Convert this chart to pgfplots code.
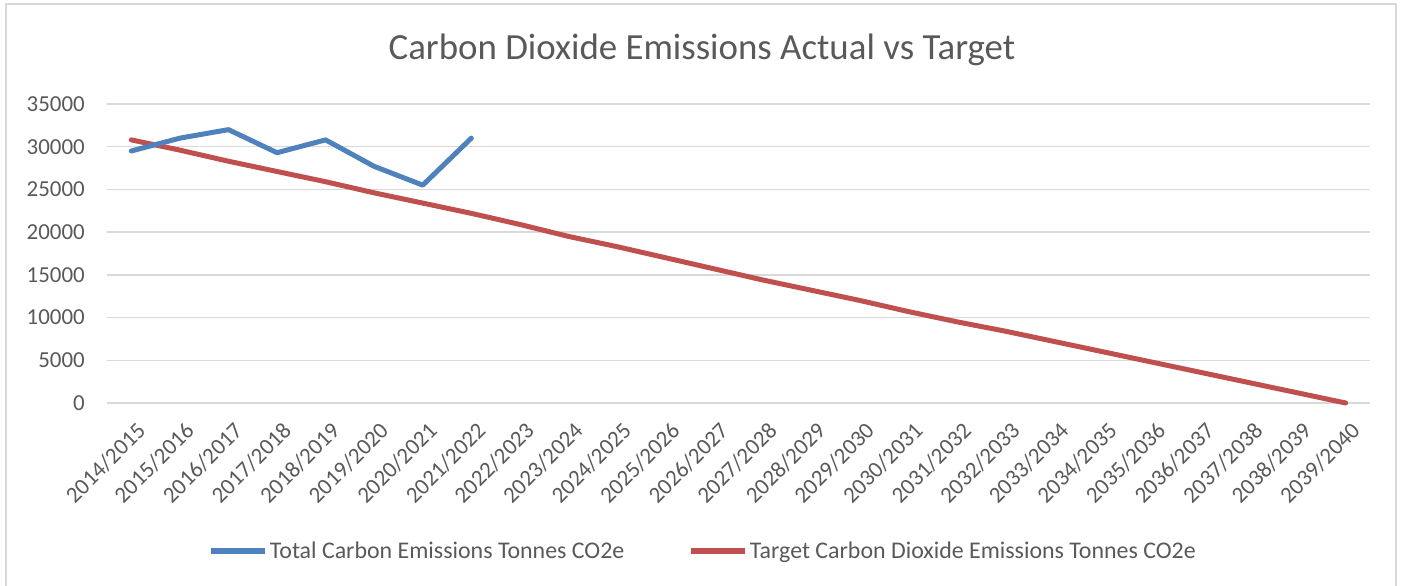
\documentclass[border=0pt]{standalone}
\usepackage{fontspec}
\setmainfont{Carlito}
\usepackage{pgfplots}
\pgfplotsset{compat=1.18}
\definecolor{txt}{HTML}{595959}
\definecolor{gridc}{HTML}{D9D9D9}
\definecolor{blu}{HTML}{4F81BD}
\definecolor{rd}{HTML}{C0504D}
\begin{document}
\begin{tikzpicture}
\begin{axis}[
  at={(107bp,183bp)}, anchor=south west,
  scale only axis, width=1263bp, height=299bp,
  xmin=-0.5, xmax=25.5, ymin=0, ymax=35000,
  ytick={0,5000,...,35000},
  scaled y ticks=false,
  xtick={0,...,25},
  xticklabels={2014/2015,2015/2016,2016/2017,2017/2018,2018/2019,2019/2020,2020/2021,2021/2022,2022/2023,2023/2024,2024/2025,2025/2026,2026/2027,2027/2028,2028/2029,2029/2030,2030/2031,2031/2032,2032/2033,2033/2034,2034/2035,2035/2036,2036/2037,2037/2038,2038/2039,2039/2040},
  axis line style={draw=none},
  tick align=outside,
  major tick length=22bp,
  tick style={draw=none},
  ymajorgrids,
  grid style={gridc, line width=1.5bp},
  /pgf/number format/1000 sep={},
  /pgf/number format/assume math mode=true,
  tick label style={text=txt, font=\fontsize{23}{27}\selectfont, inner sep=0pt},
  yticklabel style={anchor=east},
  xticklabel style={rotate=45, anchor=north east, xshift=6bp},
  legend style={at={(0.472,-0.495)}, anchor=center, draw=none, fill=none,
    font=\fontsize{24}{28}\selectfont, text=txt, legend columns=2,
    /tikz/every even column/.append style={column sep=62bp},
    nodes={inner sep=2bp}},
  legend image code/.code={\draw[#1] (0bp,0bp) -- (54bp,0bp);},
  clip=false,
]
\addplot[rd, line width=5bp, line join=round, line cap=round, forget plot] coordinates {
(0,30800) (1,29600) (2,28300) (3,27100) (4,25900) (5,24600) (6,23400) (7,22200) (8,20900) (9,19500)
(10,18300) (11,17000) (12,15700) (13,14400) (14,13200) (15,12000) (16,10700) (17,9500) (18,8400)
(19,7200) (20,6000) (21,4800) (22,3600) (23,2400) (24,1200) (25,0)};
\addplot[blu, line width=5bp, line join=round, line cap=round, forget plot] coordinates {
(0,29500) (1,31000) (2,32000) (3,29300) (4,30800) (5,27700) (6,25500) (7,31000)};
\addlegendimage{blu, line width=5.5bp}
\addlegendentry{Total Carbon Emissions Tonnes CO2e}
\addlegendimage{rd, line width=5.5bp}
\addlegendentry{Target Carbon Dioxide Emissions Tonnes CO2e}
\end{axis}
\node[text=txt, font=\fontsize{37}{44}\selectfont] at (702bp,536bp) {Carbon Dioxide Emissions Actual vs Target};
\draw[gridc, line width=1.2bp] (6bp,0bp) -- (6bp,582bp) -- (1396bp,582bp) -- (1396bp,0bp);
\pgfresetboundingbox
\path[use as bounding box] (0bp,0bp) rectangle (1403bp,586bp);
\end{tikzpicture}
\end{document}
